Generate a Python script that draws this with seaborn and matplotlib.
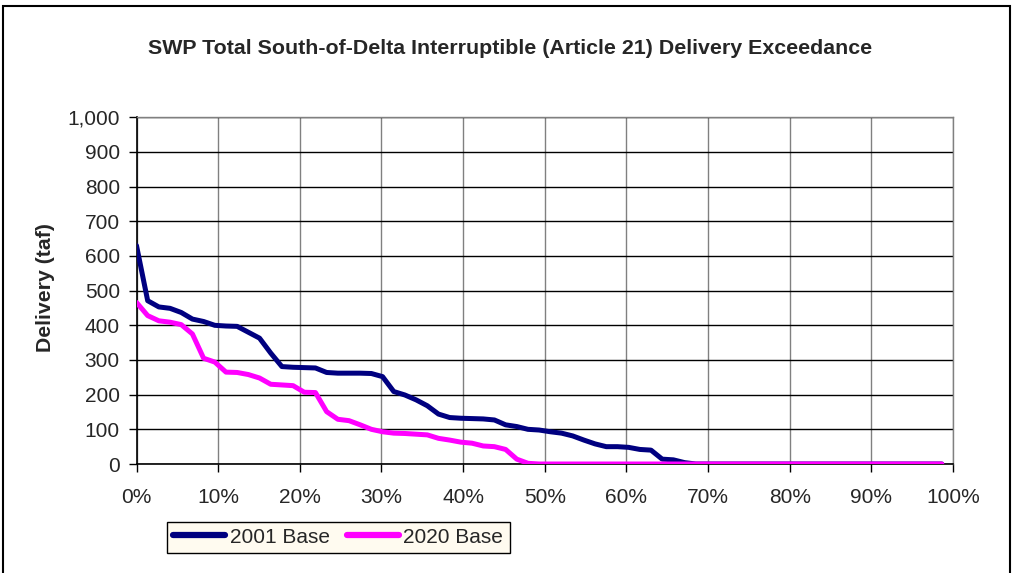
import numpy as np
import pandas as pd
import matplotlib
matplotlib.use("Agg")
import matplotlib.pyplot as plt
import seaborn as sns
from matplotlib.ticker import MultipleLocator, FuncFormatter
from matplotlib.lines import Line2D
from matplotlib.patches import Rectangle

# ---- data (taf), sorted exceedance, 73 years ----
base_2001 = [630, 471, 453, 449, 437, 418, 411, 400, 398, 397,
             380, 363, 320, 281, 279, 278, 277, 264, 262, 262,
             262, 261, 252, 209, 199, 185, 168, 144, 134, 132,
             131, 130, 127, 113, 108, 100, 98, 93, 89, 81,
             69, 58, 50, 50, 48, 42, 40, 14, 12, 4,
             0, 0, 0, 0, 0, 0, 0, 0, 0, 0,
             0, 0, 0, 0, 0, 0, 0, 0, 0, 0,
             0, 0, 0]
base_2020 = [466, 428, 413, 409, 402, 375, 305, 294, 265, 264,
             258, 248, 230, 228, 226, 207, 206, 151, 129, 125,
             113, 100, 93, 89, 88, 86, 84, 74, 69, 63,
             60, 52, 50, 42, 14, 2, 0, 0, 0, 0,
             0, 0, 0, 0, 0, 0, 0, 0, 0, 0,
             0, 0, 0, 0, 0, 0, 0, 0, 0, 0,
             0, 0, 0, 0, 0, 0, 0, 0, 0, 0,
             0, 0, 0]
series_names = ["2001 Base", "2020 Base"]
series_colors = ["#000080", "#FF00FF"]
title = "SWP Total South-of-Delta Interruptible (Article 21) Delivery Exceedance"
ylabel = "Delivery (taf)"

n = len(base_2001)
exceed = [100.0 * i / n for i in range(n)]
df = pd.DataFrame({
    "Exceedance": exceed * 2,
    "Delivery": base_2001 + base_2020,
    "Series": [series_names[0]] * n + [series_names[1]] * n,
})

sns.set_style("white")
plt.rcParams["font.family"] = ["Liberation Sans", "DejaVu Sans"]

fig = plt.figure(figsize=(10.13, 5.73), dpi=100)
ax = fig.add_axes([136.5 / 1013, 109 / 573, 816.5 / 1013, 346.7 / 573])

palette = dict(zip(series_names, series_colors))
sns.lineplot(data=df, x="Exceedance", y="Delivery", hue="Series",
             palette=palette, linewidth=3.6, ax=ax, legend=False, zorder=3)

ax.set_xlim(0, 100)
ax.set_ylim(0, 1000)
ax.xaxis.set_major_locator(MultipleLocator(10))
ax.yaxis.set_major_locator(MultipleLocator(100))
ax.xaxis.set_major_formatter(FuncFormatter(lambda v, p: f"{int(round(v))}%"))
ax.yaxis.set_major_formatter(FuncFormatter(lambda v, p: f"{int(round(v)):,}"))
ax.grid(True, axis="y", color="black", linewidth=1.0, zorder=1)
ax.grid(True, axis="x", color="#808080", linewidth=1.0, zorder=1)
ax.set_axisbelow(True)
for s in ["top", "right"]:
    ax.spines[s].set_color("#808080")
    ax.spines[s].set_linewidth(1.0)
for s in ["left", "bottom"]:
    ax.spines[s].set_color("black")
    ax.spines[s].set_linewidth(1.2)
ax.tick_params(axis="both", direction="out", length=6, width=1, color="black",
               labelsize=15, left=True, bottom=True)
ax.tick_params(axis="x", pad=11)
ax.tick_params(axis="y", pad=6)
ax.set_xlabel("")
ax.set_ylabel(ylabel, fontsize=15.3, fontweight="bold")
ax.yaxis.set_label_coords(-0.0995, 0.508)

fig.text(510 / 1013, 1 - 48 / 573, title, ha="center", va="center",
         fontsize=15.4, fontweight="bold")

handles = [Line2D([0], [0], color=c, lw=4.5) for c in series_colors]
leg = fig.legend(handles, series_names, loc="lower left",
                 bbox_to_anchor=(167 / 1013, 20 / 573), ncol=2, fontsize=15,
                 frameon=True, fancybox=False, facecolor="#FFFBF0",
                 edgecolor="black", framealpha=1, handlelength=2.5,
                 handletextpad=0.2, columnspacing=0.85, borderpad=0.3,
                 borderaxespad=0)
leg.get_frame().set_linewidth(1.0)

fig.patches.append(Rectangle((3 / 1013, -0.1), 1007 / 1013, 1 - 6 / 573 + 0.1,
                             transform=fig.transFigure, fill=False,
                             edgecolor="black", linewidth=1.5))

fig.savefig("out.png", dpi=100, facecolor="white")
